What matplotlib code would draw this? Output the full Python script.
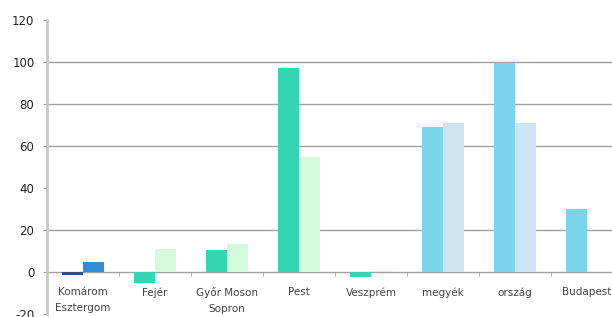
import matplotlib
matplotlib.use("Agg")
import matplotlib.pyplot as plt
import numpy as np

# Adatok
categories = ["Komárom\nEsztergom", "Fejér", "Győr Moson\nSopron", "Pest",
              "Veszprém", "megyék", "ország", "Budapest"]
series_a = [-1.5, -5.0, 10.5, 97.0, -2.5, 69.2, 99.3, 30.0]
series_b = [5.0, 11.0, 13.5, 54.8, 0.6, 70.8, 70.8, None]

colors_a = ["#2E4F86", "#33D6B0", "#33D6B0", "#33D6B0", "#33D6B0", "#79D4EC", "#79D4EC", "#79D4EC"]
colors_b = ["#2E8FD8", "#D4FADC", "#D4FADC", "#D4FADC", "#D4FADC", "#CDE4F3", "#CDE4F3", "#CDE4F3"]

y_ticks = [-20, 0, 20, 40, 60, 80, 100, 120]
grid_levels = [20, 60, 80, 100]

plt.rcParams['font.family'] = ['DejaVu Sans']
plt.rcParams['axes.unicode_minus'] = False

fig = plt.figure(figsize=(6.12, 3.17), dpi=100)
ax = fig.add_axes([47 / 612, 3 / 317, 576 / 612, 294 / 317])

x = np.arange(len(categories))
w = 0.29
ax.bar(x - w / 2, series_a, width=w, color=colors_a, zorder=3)
vals_b = [v if v is not None else 0 for v in series_b]
cols_b = [c if v is not None else "none" for c, v in zip(colors_b, series_b)]
ax.bar(x + w / 2, vals_b, width=w, color=cols_b, zorder=3)

for g in grid_levels:
    ax.axhline(g, color="#a0a0a0", lw=1.0, zorder=1)

ax.set_xlim(-0.5, len(categories) - 0.5)
ax.set_ylim(-20, 120)
ax.set_yticks(y_ticks)
ax.tick_params(axis='y', length=3, color="#a0a0a0", labelsize=8.5, labelcolor="#222222", pad=6)

# x tengely a nullánál
ax.spines['bottom'].set_position(('data', 0))
ax.spines['bottom'].set_color("#a0a0a0")
ax.spines['bottom'].set_linewidth(1.0)
ax.spines['bottom'].set_zorder(2)
ax.spines['left'].set_color("#c8c8c8")
ax.spines['left'].set_linewidth(2.0)
for s in ['top', 'right']:
    ax.spines[s].set_visible(False)

ax.set_xticks(x)
ax.set_xticklabels(categories, fontsize=7.5, color="#444444", linespacing=1.75)
ax.tick_params(axis='x', length=0, pad=11)
ax.set_xticks(np.arange(0.5, len(categories) - 0.5, 1), minor=True)
ax.tick_params(axis='x', which='minor', length=3, color="#a0a0a0")

fig.savefig("out.png", dpi=100)
